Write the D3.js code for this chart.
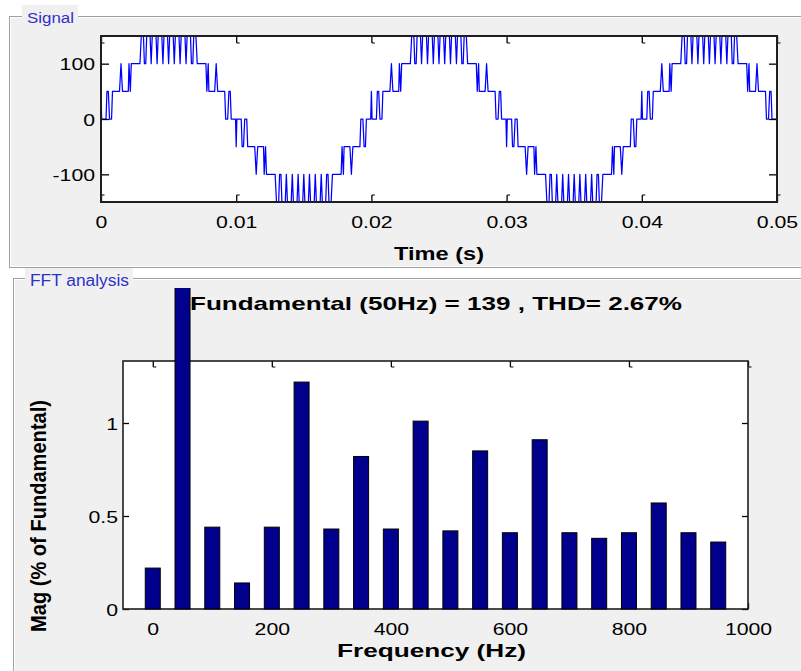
<!DOCTYPE html>
<html><head><meta charset="utf-8">
<script src="https://cdn.jsdelivr.net/npm/d3@7"></script>
<style>
html,body{margin:0;padding:0;background:#fff;}
svg{display:block;font-family:"Liberation Sans",Arial,Helvetica,sans-serif;}
</style></head><body>
<svg id="chart" width="801" height="671"></svg>
<script>
// ---------- DATA ----------
// Signal: polyline vertices [time in ms, value]
const signalPoints = [
[0,50],[0.05,0],[0.37,0],[0.44,50],[0.54,50],[0.63,0],[0.78,0],[0.85,50],[1.37,50],[1.48,100],[1.59,50],[2.02,50],[2.07,100],[2.17,50],[2.24,100],[2.88,100],[2.98,150],[3.14,150],[3.21,100],[3.31,100],[3.38,150],[3.63,150],[3.71,100],[3.79,150],[4.07,150],[4.15,100],[4.23,150],[4.5,150],[4.58,100],[4.66,150],[4.92,150],[5,100],[5.08,150],[5.34,150],[5.42,100],[5.5,150],[5.77,150],[5.85,100],[5.93,150],[6.21,150],[6.29,100],[6.37,150],[6.62,150],[6.69,100],[6.79,100],[6.86,150],[7.02,150],[7.12,100],[7.76,100],[7.83,50],[7.93,100],[7.98,50],[8.41,50],[8.52,100],[8.63,50],[9.15,50],[9.22,0],[9.37,0],[9.46,50],[9.56,50],[9.63,0],[9.95,0],
[10,-50],[10.05,0],[10.37,0],[10.44,-50],[10.54,-50],[10.63,0],[10.78,0],[10.85,-50],[11.37,-50],[11.48,-100],[11.59,-50],[12.02,-50],[12.07,-100],[12.17,-50],[12.24,-100],[12.88,-100],[12.98,-150],[13.14,-150],[13.21,-100],[13.31,-100],[13.38,-150],[13.63,-150],[13.71,-100],[13.79,-150],[14.07,-150],[14.15,-100],[14.23,-150],[14.5,-150],[14.58,-100],[14.66,-150],[14.92,-150],[15,-100],[15.08,-150],[15.34,-150],[15.42,-100],[15.5,-150],[15.77,-150],[15.85,-100],[15.93,-150],[16.21,-150],[16.29,-100],[16.37,-150],[16.62,-150],[16.69,-100],[16.79,-100],[16.86,-150],[17.02,-150],[17.12,-100],[17.76,-100],[17.83,-50],[17.93,-100],[17.98,-50],[18.41,-50],[18.52,-100],[18.63,-50],[19.15,-50],[19.22,0],[19.37,0],[19.46,-50],[19.56,-50],[19.63,0],[19.95,0],
[20,50],[20.05,0],[20.37,0],[20.44,50],[20.54,50],[20.63,0],[20.78,0],[20.85,50],[21.37,50],[21.48,100],[21.59,50],[22.02,50],[22.07,100],[22.17,50],[22.24,100],[22.88,100],[22.98,150],[23.14,150],[23.21,100],[23.31,100],[23.38,150],[23.63,150],[23.71,100],[23.79,150],[24.07,150],[24.15,100],[24.23,150],[24.5,150],[24.58,100],[24.66,150],[24.92,150],[25,100],[25.08,150],[25.34,150],[25.42,100],[25.5,150],[25.77,150],[25.85,100],[25.93,150],[26.21,150],[26.29,100],[26.37,150],[26.62,150],[26.69,100],[26.79,100],[26.86,150],[27.02,150],[27.12,100],[27.76,100],[27.83,50],[27.93,100],[27.98,50],[28.41,50],[28.52,100],[28.63,50],[29.15,50],[29.22,0],[29.37,0],[29.46,50],[29.56,50],[29.63,0],[29.95,0],
[30,-50],[30.05,0],[30.37,0],[30.44,-50],[30.54,-50],[30.63,0],[30.78,0],[30.85,-50],[31.37,-50],[31.48,-100],[31.59,-50],[32.02,-50],[32.07,-100],[32.17,-50],[32.24,-100],[32.88,-100],[32.98,-150],[33.14,-150],[33.21,-100],[33.31,-100],[33.38,-150],[33.63,-150],[33.71,-100],[33.79,-150],[34.07,-150],[34.15,-100],[34.23,-150],[34.5,-150],[34.58,-100],[34.66,-150],[34.92,-150],[35,-100],[35.08,-150],[35.34,-150],[35.42,-100],[35.5,-150],[35.77,-150],[35.85,-100],[35.93,-150],[36.21,-150],[36.29,-100],[36.37,-150],[36.62,-150],[36.69,-100],[36.79,-100],[36.86,-150],[37.02,-150],[37.12,-100],[37.76,-100],[37.83,-50],[37.93,-100],[37.98,-50],[38.41,-50],[38.52,-100],[38.63,-50],[39.15,-50],[39.22,0],[39.37,0],[39.46,-50],[39.56,-50],[39.63,0],[39.95,0],
[40,50],[40.05,0],[40.37,0],[40.44,50],[40.54,50],[40.63,0],[40.78,0],[40.85,50],[41.37,50],[41.48,100],[41.59,50],[42.02,50],[42.07,100],[42.17,50],[42.24,100],[42.88,100],[42.98,150],[43.14,150],[43.21,100],[43.31,100],[43.38,150],[43.63,150],[43.71,100],[43.79,150],[44.07,150],[44.15,100],[44.23,150],[44.5,150],[44.58,100],[44.66,150],[44.92,150],[45,100],[45.08,150],[45.34,150],[45.42,100],[45.5,150],[45.77,150],[45.85,100],[45.93,150],[46.21,150],[46.29,100],[46.37,150],[46.62,150],[46.69,100],[46.79,100],[46.86,150],[47.02,150],[47.12,100],[47.76,100],[47.83,50],[47.93,100],[47.98,50],[48.41,50],[48.52,100],[48.63,50],[49.15,50],[49.22,0],[49.37,0],[49.46,50],[49.56,50],[49.63,0],[50,0]
];
const signalTimeTicks = [0, 0.01, 0.02, 0.03, 0.04, 0.05];
const signalTimeTickLabels = ["0", "0.01", "0.02", "0.03", "0.04", "0.05"];
const signalValueTicks = [-100, 0, 100];
const signalValueTickLabels = ["-100", "0", "100"];

const fftFreq = [0, 50, 100, 150, 200, 250, 300, 350, 400, 450, 500, 550, 600, 650, 700, 750, 800, 850, 900, 950];
const fftMag  = [0.22, 100, 0.44, 0.14, 0.44, 1.22, 0.43, 0.82, 0.43, 1.01, 0.42, 0.85, 0.41, 0.91, 0.41, 0.38, 0.41, 0.57, 0.41, 0.36];
const fftFreqTicks = [0, 200, 400, 600, 800, 1000];
const fftFreqTickLabels = ["0", "200", "400", "600", "800", "1000"];
const fftMagTicks = [0, 0.5, 1];
const fftMagTickLabels = ["0", "0.5", "1"];

const signalPanelTitle = "Signal";
const fftPanelTitle = "FFT analysis";
const fftTitle = "Fundamental (50Hz) = 139 , THD= 2.67%";
const signalXLabel = "Time (s)";
const fftXLabel = "Frequency (Hz)";
const fftYLabel = "Mag (% of Fundamental)";

// ---------- DRAW ----------
const svg = d3.select("#chart");
const TICK_STRETCH = 1.25;

function panel(x, y, w, h) {
  svg.append("rect").attr("x", x + 0.5).attr("y", y + 0.5).attr("width", w).attr("height", h)
    .attr("fill", "#f0f0f0").attr("stroke", "#a0a0a0").attr("stroke-width", 1);
  svg.append("rect").attr("x", x + 1.5).attr("y", y + 1.5).attr("width", w - 2).attr("height", h - 2)
    .attr("fill", "none").attr("stroke", "#ffffff").attr("stroke-width", 1);
}
function legend(bx, by, bw, bh, tx, ty, txt, len, size) {
  svg.append("rect").attr("x", bx).attr("y", by).attr("width", bw).attr("height", bh).attr("fill", "#f0f0f0");
  svg.append("text").attr("x", tx).attr("y", ty).attr("font-size", size).attr("fill", "#3030c8")
    .attr("textLength", len).attr("lengthAdjust", "spacingAndGlyphs").text(txt);
}

panel(9, 16, 830, 251);
panel(13, 278, 830, 430);
legend(22, 5, 56, 21, 27, 23, signalPanelTitle, 47, 15.5);
legend(25, 268, 108, 21, 30, 285.5, fftPanelTitle, 99, 16);

// ----- Signal plot -----
const sx = d3.scaleLinear().domain([0, 0.05]).range([101, 777]);
const sy = d3.scaleLinear().domain([-150, 150]).range([202, 36]);

svg.append("rect").attr("x", sx(0)).attr("y", sy(150)).attr("width", sx(0.05) - sx(0))
  .attr("height", sy(-150) - sy(150)).attr("fill", "#ffffff");

const sLine = d3.line().x(d => sx(d[0] / 1000)).y(d => sy(d[1]));
svg.append("path").datum(signalPoints).attr("d", sLine).attr("fill", "none")
  .attr("stroke", "#0000ff").attr("stroke-width", 1.25).attr("stroke-linejoin", "round");

function styleAxis(g) {
  g.select(".domain").remove();
  g.selectAll(".tick line").attr("stroke", "#000").attr("stroke-width", 1.3);
  g.selectAll(".tick text").attr("fill", "#000").attr("font-size", 17)
    .attr("font-family", '"Liberation Sans",Arial,Helvetica,sans-serif');
}

// bottom
const sxb = svg.append("g").attr("transform", `translate(0,${sy(-150)})`)
  .call(d3.axisBottom(sx).tickValues(signalTimeTicks).tickFormat((d, i) => signalTimeTickLabels[i])
    .tickSize(-7).tickSizeOuter(0));
styleAxis(sxb);
sxb.selectAll(".tick text").attr("y", 26).attr("dy", null).attr("transform", `scale(${TICK_STRETCH},1)`);
sxb.selectAll(".tick").append("path").attr("d", "M0,-7h3").attr("stroke", "#000").attr("fill", "none");
// top
const sxt = svg.append("g").attr("transform", `translate(0,${sy(150)})`)
  .call(d3.axisTop(sx).tickValues(signalTimeTicks).tickFormat("").tickSize(-7).tickSizeOuter(0));
styleAxis(sxt);
sxt.selectAll(".tick").append("path").attr("d", "M0,7h3").attr("stroke", "#000").attr("fill", "none");
// left
const syl = svg.append("g").attr("transform", `translate(${sx(0)},0)`)
  .call(d3.axisLeft(sy).tickValues(signalValueTicks).tickFormat((d, i) => signalValueTickLabels[i])
    .tickSize(-8).tickSizeOuter(0));
styleAxis(syl);
syl.selectAll(".tick text").attr("x", -6 / TICK_STRETCH).attr("dy", "0.36em").attr("transform", `scale(${TICK_STRETCH},1)`);
// right
const syr = svg.append("g").attr("transform", `translate(${sx(0.05)},0)`)
  .call(d3.axisRight(sy).tickValues(signalValueTicks).tickFormat("").tickSize(-8).tickSizeOuter(0));
styleAxis(syr);

svg.append("rect").attr("x", sx(0)).attr("y", sy(150)).attr("width", sx(0.05) - sx(0))
  .attr("height", sy(-150) - sy(150)).attr("fill", "none").attr("stroke", "#1e1e1e").attr("stroke-width", 2);

svg.append("text").attr("x", (sx(0) + sx(0.05)) / 2).attr("y", 260).attr("text-anchor", "middle")
  .attr("font-weight", "bold").attr("font-size", 18).attr("textLength", 90)
  .attr("lengthAdjust", "spacingAndGlyphs").text(signalXLabel);

// ----- FFT plot -----
const fx = d3.scaleLinear().domain([-50, 1000]).range([123, 748]);
const fy = d3.scaleLinear().domain([0, 4 / 3]).range([609, 361]);

svg.append("rect").attr("x", fx(-50)).attr("y", fy(4 / 3)).attr("width", fx(1000) - fx(-50))
  .attr("height", fy(0) - fy(4 / 3)).attr("fill", "#ffffff");

const fxb = svg.append("g").attr("transform", `translate(0,${fy(0)})`)
  .call(d3.axisBottom(fx).tickValues(fftFreqTicks).tickFormat((d, i) => fftFreqTickLabels[i])
    .tickSize(-6).tickSizeOuter(0));
styleAxis(fxb);
fxb.selectAll(".tick text").attr("y", 26).attr("dy", null).attr("transform", `scale(${TICK_STRETCH},1)`);
const fxt = svg.append("g").attr("transform", `translate(0,${fy(4 / 3)})`)
  .call(d3.axisTop(fx).tickValues(fftFreqTicks).tickFormat("").tickSize(-6).tickSizeOuter(0));
styleAxis(fxt);
fxt.selectAll(".tick").append("path").attr("d", "M0,6h3").attr("stroke", "#000").attr("fill", "none");
const fyl = svg.append("g").attr("transform", `translate(${fx(-50)},0)`)
  .call(d3.axisLeft(fy).tickValues(fftMagTicks).tickFormat((d, i) => fftMagTickLabels[i])
    .tickSize(-6).tickSizeOuter(0));
styleAxis(fyl);
fyl.selectAll(".tick text").attr("x", -5 / TICK_STRETCH).attr("dy", "0.4em").attr("transform", `scale(${TICK_STRETCH},1)`);
const fyr = svg.append("g").attr("transform", `translate(${fx(1000)},0)`)
  .call(d3.axisRight(fy).tickValues(fftMagTicks).tickFormat("").tickSize(-6).tickSizeOuter(0));
styleAxis(fyr);

svg.append("rect").attr("x", fx(-50)).attr("y", fy(4 / 3)).attr("width", fx(1000) - fx(-50))
  .attr("height", fy(0) - fy(4 / 3)).attr("fill", "none").attr("stroke", "#1e1e1e").attr("stroke-width", 1.6);

// bars (clipped just below the title)
svg.append("clipPath").attr("id", "barClip").append("rect")
  .attr("x", 0).attr("y", 288).attr("width", 801).attr("height", 330);
const halfW = 12.6;
svg.append("g").attr("clip-path", "url(#barClip)").selectAll("rect")
  .data(fftFreq.map((f, i) => ({ f, m: fftMag[i] })))
  .join("rect")
  .attr("x", d => fx(d.f - halfW))
  .attr("width", d => fx(d.f + halfW) - fx(d.f - halfW))
  .attr("y", d => fy(d.m))
  .attr("height", d => fy(0) - fy(d.m))
  .attr("fill", "#00008c").attr("stroke", "#000").attr("stroke-width", 1);

svg.append("text").attr("x", 436).attr("y", 310).attr("text-anchor", "middle")
  .attr("font-weight", "bold").attr("font-size", 19).attr("textLength", 492)
  .attr("lengthAdjust", "spacingAndGlyphs").text(fftTitle);

svg.append("text").attr("x", 431.5).attr("y", 657).attr("text-anchor", "middle")
  .attr("font-weight", "bold").attr("font-size", 18.5).attr("textLength", 189)
  .attr("lengthAdjust", "spacingAndGlyphs").text(fftXLabel);

svg.append("text").attr("transform", "translate(46,516) scale(1.2,1) rotate(-90)")
  .attr("text-anchor", "middle").attr("font-weight", "bold").attr("font-size", 18.5)
  .attr("textLength", 232).attr("lengthAdjust", "spacingAndGlyphs").text(fftYLabel);
</script>
</body></html>
